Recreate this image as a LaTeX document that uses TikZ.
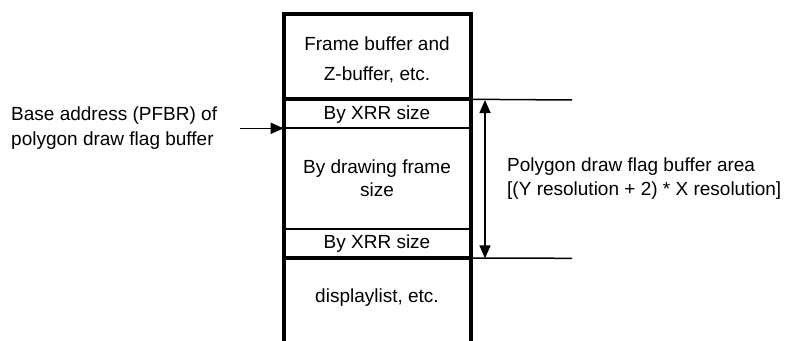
\documentclass[tikz,border=0pt]{standalone}
\usepackage{fontspec}
\setmainfont{Liberation Sans}
\usetikzlibrary{arrows.meta}
\begin{document}
\begin{tikzpicture}[x=1pt,y=-1pt,
  txt/.style={inner sep=0pt,anchor=base,font=\fontsize{19}{24}\selectfont},
  thickline/.style={line width=4pt},
  thinline/.style={line width=1.8pt},
  dim/.style={line width=1.6pt,{Triangle[width=11pt,length=13pt]}-{Triangle[width=11pt,length=13pt]}},
  ptr/.style={line width=1.6pt,-{Triangle[width=11pt,length=13pt]}}]
\useasboundingbox (0,0) rectangle (787,340);
% box coordinates
\coordinate (tl) at (283.7,13.7);
\coordinate (tr) at (471,13.7);
\coordinate (bl) at (283.7,342);
\coordinate (br) at (471,342);
\coordinate (s1l) at (283.7,99.3); \coordinate (s1r) at (471,99.3);
\coordinate (s2l) at (283.7,128.3); \coordinate (s2r) at (471,128.3);
\coordinate (s3l) at (283.7,229); \coordinate (s3r) at (471,229);
\coordinate (s4l) at (283.7,258); \coordinate (s4r) at (471,258);
% outer box (open at bottom)
\draw[thickline,line join=miter] (bl) -- (tl) -- (tr) -- (br);
\draw[thickline] (s1l) -- (s1r);
\draw[thickline] (s4l) -- (s4r);
\draw[thinline] (s2l) -- (s2r);
\draw[thinline] (s3l) -- (s3r);
% texts in box
\node[txt] (fb1) at (377,50) {Frame buffer and};
\node[txt] (fb2) at (377,80) {Z-buffer, etc.};
\node[txt] (xrr1) at (377,119.5) {By XRR size};
\node[txt] (df1) at (377,173) {By drawing frame};
\node[txt] (df2) at (377,196.5) {size};
\node[txt] (xrr2) at (377,248.5) {By XRR size};
\node[txt] (dl) at (377,302) {displaylist, etc.};
% right dimension
\coordinate (rt) at (572,100);
\coordinate (rb) at (572,258.3);
\coordinate (at) at (485,100);
\coordinate (ab) at (485,258.3);
\draw[thinline,line width=1.5pt] (s1r) -- (rt);
\draw[thinline,line width=1.5pt] (s4r) -- (rb);
\draw[dim] (at) -- (ab);
\node[txt,anchor=base west] (pa1) at (507,171) {Polygon draw flag buffer area};
\node[txt,anchor=base west] (pa2) at (507,195) {[(Y resolution + 2) * X resolution]};
% left pointer
\node[txt,anchor=base west] (ba1) at (11,120.5) {Base address (PFBR) of};
\node[txt,anchor=base west] (ba2) at (11,145.5) {polygon draw flag buffer};
\coordinate (ps) at (240,128.3);
\draw[ptr] (ps) -- (s2l);
\end{tikzpicture}
\end{document}
